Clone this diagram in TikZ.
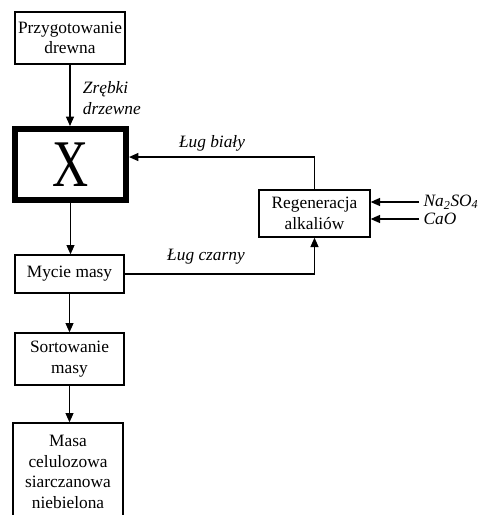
\documentclass[tikz,border=0pt]{standalone}
\usepackage{fontspec}
\setmainfont{Liberation Serif}
\usetikzlibrary{arrows.meta}
\tikzset{
	procbox/.style={draw, line width=1pt, align=center, inner sep=2pt,
		minimum width=82.5pt},
	flowlbl/.style={font=\fontsize{13}{15.5}\selectfont\itshape, inner sep=1pt},
}

\begin{document}
\begin{tikzpicture}[x=0.75pt, y=-0.75pt,
		font=\fontsize{13}{15.5}\selectfont,
		>={Triangle[length=7pt,width=6pt]}, line width=0.9pt]

	\useasboundingbox (0,0) rectangle (483,515);

	% --- Main line (left column) ---
	\node[procbox, minimum height=39pt] (prep) at (70,38) {Przygotowanie\\drewna};
	\node[procbox, line width=4.5pt, minimum width=83.25pt, minimum height=53.25pt]
		(X) at (70.5,164.5) {\scalebox{0.75}[1]{\fontsize{50}{50}\selectfont X}};
	\node[procbox, minimum width=81.75pt, minimum height=28.5pt] (mycie) at (69.5,274) {Mycie masy};
	\node[procbox, minimum width=81.75pt, minimum height=39pt] (sort) at (69.5,359) {Sortowanie\\masy};
	\node[procbox, minimum height=73.5pt] (masa) at (68,472) {Masa\\celulozowa\\siarczanowa\\niebielona};

	% --- Recovery (right) ---
	\node[procbox, minimum width=83.25pt, minimum height=35.25pt] (regen) at (314.5,213.5) {Regeneracja\\alkaliów};

	% Stream labels
	\node[flowlbl, anchor=west, align=left] (chips) at (81,98) {Zrębki\\drzewne};
	\node[flowlbl] (white) at (212,143) {Ług biały};
	\node[flowlbl] (black) at (206,257) {Ług czarny};
	\node[flowlbl, anchor=west, inner sep=3pt] (na) at (419,202) {Na\textsubscript{2}SO\textsubscript{4}};
	\node[flowlbl, anchor=west, inner sep=3pt] (cao) at (419,219) {CaO};

	% --- Connectors ---
	\draw[->] (prep.south) -- (prep.south |- X.north);
	\draw[->] (X.south) -- (X.south |- mycie.north);
	\draw[->] (mycie) -- (sort);
	\draw[->] (sort.south) -- (sort.south |- masa.north);
	\draw[->] (regen.north) |- ([yshift=5.6pt]X.east);
	\draw[->] (mycie.east) -| (regen.south);
	\draw[->] (na.west) -- (na.west -| regen.east);
	\draw[->] (cao.west) -- (cao.west -| regen.east);
\end{tikzpicture}
\end{document}
